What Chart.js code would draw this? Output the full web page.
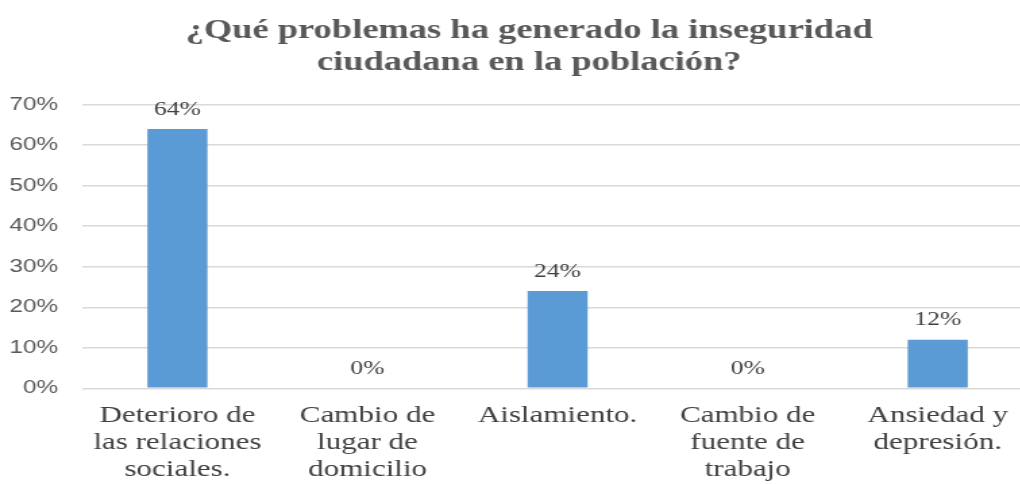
<!DOCTYPE html>
<html>
<head>
<meta charset="utf-8">
<script src="https://cdn.jsdelivr.net/npm/chart.js@4.4.0/dist/chart.umd.min.js"></script>
<style>
  body { margin: 0; overflow: hidden; background: #fff; }
  /* the original picture is stretched sideways, so the chart is too */
  #wrap { width: 784px; height: 484px; position: relative; transform: scaleX(1.35); transform-origin: 0 0; }
</style>
</head>
<body>
<div id="wrap"><canvas id="myChart"></canvas></div>
<script>
const categories = [
  ["Deterioro de", "las relaciones", "sociales."],
  ["Cambio de", "lugar de", "domicilio"],
  ["Aislamiento."],
  ["Cambio de", "fuente de", "trabajo"],
  ["Ansiedad y", "depresión."]
]
const values = [0.64, 0, 0.24, 0, 0.12]
const yTicks = [0, 0.1, 0.2, 0.3, 0.4, 0.5, 0.6, 0.7]
const chartTitle = ["¿Qué problemas ha generado la inseguridad", "ciudadana en la población?"]
const barColor = "#5b9bd5"

function pct(v){
  return Math.round(v * 100) + "%"
}

// labels above bars
const valueLabels = {
  id: "valueLabels",
  afterDatasetsDraw(chart){
    const ctx = chart.ctx
    const meta = chart.getDatasetMeta(0)
    ctx.save()
    ctx.font = "19px 'Liberation Serif'"
    ctx.fillStyle = "#404040"
    ctx.textAlign = "center"
    ctx.textBaseline = "bottom"
    meta.data.forEach((bar, i) => {
      ctx.fillText(pct(values[i]), bar.x, bar.y - 10)
    })
    ctx.restore()
  }
}

new Chart("myChart", {
  type: "bar",
  data: {
    labels: categories,
    datasets: [{
      data: values,
      backgroundColor: barColor,
      barPercentage: 0.316,
      categoryPercentage: 1
    }]
  },
  options: {
    responsive: true,
    maintainAspectRatio: false,
    animation: false,
    layout: { padding: { top: 15, left: 7, right: 7, bottom: -5 } },
    plugins: {
      legend: { display: false },
      tooltip: { enabled: false },
      title: {
        display: true,
        text: chartTitle,
        color: "#595959",
        font: { family: "'Liberation Serif'", size: 27, weight: "bold", lineHeight: 1.18 },
        padding: { top: 0, bottom: 26 }
      }
    },
    scales: {
      x: {
        grid: { display: false },
        border: { display: false },
        afterFit(axis){
          // wide labels should not push the plot inward
          axis.paddingLeft = 0
          axis.paddingRight = 19
        },
        ticks: {
          color: "#404040",
          font: { family: "'Liberation Serif'", size: 23, lineHeight: 1.17 },
          maxRotation: 0,
          autoSkip: false,
          padding: 6
        }
      },
      y: {
        min: 0,
        max: 0.7,
        afterBuildTicks(axis){
          axis.ticks = yTicks.map(v => ({ value: v }))
        },
        afterFit(axis){
          // chart.js counts the tick padding twice
          axis.width -= axis.options.ticks.padding
        },
        grid: { color: "#d9d9d9", lineWidth: 1.5, drawTicks: false },
        border: { display: false },
        ticks: {
          color: "#595959",
          font: { family: "'Liberation Sans'", size: 18 },
          padding: 18,
          callback: v => pct(v)
        }
      }
    }
  },
  plugins: [valueLabels]
})
</script>
</body>
</html>
